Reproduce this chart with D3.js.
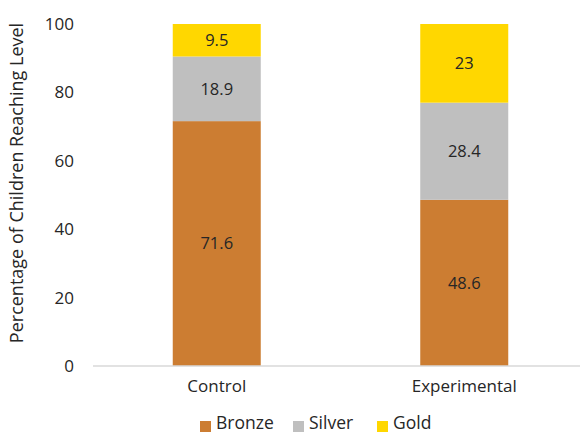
<!DOCTYPE html>
<html><head><meta charset="utf-8">
<script src="https://cdn.jsdelivr.net/npm/d3@7"></script>
<style>body{margin:0;background:#fff}svg{display:block}text{font-family:"Open Sans",Lato,sans-serif;fill:#262626}</style>
</head><body><svg id="c" width="580" height="434"></svg>
<script>
const categories = ["Control", "Experimental"];
const seriesNames = ["Bronze", "Silver", "Gold"];
const bronze = [71.6, 48.6];
const silver = [18.9, 28.4];
const gold = [9.5, 23];
const yTicks = [0, 20, 40, 60, 80, 100];
const colors = ["#CC7D32", "#BFBFBF", "#FFD700"];

const svg = d3.select("#c");
const x = d3.scaleBand().domain(categories).range([93, 588]);
const y = d3.scaleLinear().domain([0, 100]).range([366, 24]);
const barW = 88;

const rows = categories.map((c, i) => ({cat: c, Bronze: bronze[i], Silver: silver[i], Gold: gold[i]}));
const stack = d3.stack().keys(seriesNames)(rows);

stack.forEach((s, si) => {
  const g = svg.append("g");
  g.selectAll("rect").data(s).join("rect")
    .attr("x", d => x(d.data.cat) + x.bandwidth() / 2 - barW / 2)
    .attr("width", barW)
    .attr("y", d => y(d[1]))
    .attr("height", d => y(d[0]) - y(d[1]))
    .attr("fill", colors[si]);
  g.selectAll("text").data(s).join("text")
    .attr("x", d => x(d.data.cat) + x.bandwidth() / 2)
    .attr("y", d => (y(d[0]) + y(d[1])) / 2)
    .attr("dy", "0.35em")
    .attr("text-anchor", "middle")
    .style("font-size", "16.5px")
    .text(d => d.data[seriesNames[si]]);
});

const xAxis = svg.append("g").attr("transform", "translate(0,366)")
  .call(d3.axisBottom(x).tickSize(0).tickPadding(14));
xAxis.select(".domain").attr("stroke", "#d9d9d9").attr("stroke-width", 1.5).attr("d", "M93,0H580");
xAxis.selectAll("text").style("font-size", "17px").attr("fill", "#262626");

const yAxis = svg.append("g").attr("transform", "translate(74,0)")
  .call(d3.axisLeft(y).tickValues(yTicks).tickSize(0).tickPadding(0));
yAxis.select(".domain").remove();
yAxis.selectAll("text").style("font-size", "17px").attr("fill", "#262626");

svg.append("text")
  .attr("transform", "translate(17,183) rotate(-90)")
  .attr("text-anchor", "middle")
  .attr("dy", "0.35em")
  .style("font-size", "18px")
  .text("Percentage of Children Reaching Level");

const legX = [200, 293, 377];
const leg = svg.append("g");
seriesNames.forEach((n, i) => {
  leg.append("rect").attr("x", legX[i]).attr("y", 421).attr("width", 11).attr("height", 11).attr("fill", colors[i]);
  leg.append("text").attr("x", legX[i] + 16).attr("y", 423).attr("dy", "0.35em")
    .style("font-size", "17.5px").text(n);
});
</script></body></html>
